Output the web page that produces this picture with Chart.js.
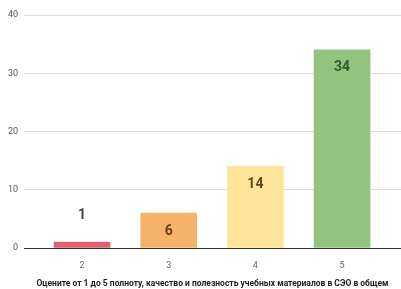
<!DOCTYPE html>
<html><head><meta charset="utf-8">
<script src="https://cdn.jsdelivr.net/npm/chart.js@4"></script>
<style>html,body{margin:0;padding:0;background:#fff}#w{width:401px;height:289px}</style>
</head><body><div id="w"><canvas id="c" width="401" height="289"></canvas></div>
<script>
const categories = [2, 3, 4, 5];
const counts = [1, 6, 14, 34];
const barColors = ['#e06070', '#f6b26b', '#ffe599', '#93c47d'];
const labelColors = ['#444444', '#6b3f14', '#5c4a1e', '#2f5a2f'];
const yTicks = [0, 10, 20, 30, 40];
const titleText = 'Оцените от 1 до 5 полноту, качество и полезность учебных материалов в СЭО в общем';

const labelPlugin = {
  id: 'barLabels',
  afterDatasetsDraw(chart) {
    const ctx = chart.ctx;
    const meta = chart.getDatasetMeta(0);
    ctx.save();
    ctx.font = 'bold 14px Roboto';
    ctx.textAlign = 'center';
    ctx.textBaseline = 'middle';
    meta.data.forEach((bar, i) => {
      const h = bar.base - bar.y;
      const y = h > 25 ? bar.y + 18 : bar.y - 27;
      ctx.fillStyle = labelColors[i];
      ctx.fillText(String(counts[i]), bar.x, y);
    });
    ctx.restore();
  }
};

new Chart(document.getElementById('c'), {
  type: 'bar',
  data: {
    datasets: [{
      data: categories.map((c, i) => ({x: c, y: counts[i]})),
      backgroundColor: barColors,
      barThickness: 56,
      borderWidth: 0
    }]
  },
  options: {
    responsive: false,
    animation: false,
    layout: {padding: {top: 15, right: 0, left: 0, bottom: 0}},
    plugins: {legend: {display: false}, tooltip: {enabled: false}},
    scales: {
      x: {
        type: 'linear',
        offset: false,
        min: 1.33, max: 5.68,
        afterBuildTicks: s => { s.ticks = categories.map(v => ({value: v})); },
        afterFit: s => { s.height = 41; },
        grid: {display: false},
        border: {display: true, color: '#333333', width: 1},
        ticks: {color: '#666666', font: {family: 'Roboto', size: 9}, padding: 4, callback: v => String(v)},
        title: {display: true, text: titleText, color: '#222222', font: {family: 'Roboto', size: 8.5, weight: 'bold'}, padding: {top: 10, bottom: 0}}
      },
      y: {
        min: 0, max: 40,
        afterBuildTicks: s => { s.ticks = yTicks.map(v => ({value: v})); },
        afterFit: s => { s.width = 24; },
        grid: {color: ctx => ctx.tick && ctx.tick.value === 0 ? '#333333' : '#dddddd', drawTicks: false},
        border: {display: false},
        ticks: {color: '#555555', font: {family: 'Roboto', size: 9}, padding: 6}
      }
    }
  },
  plugins: [labelPlugin]
});
</script>
</body></html>
